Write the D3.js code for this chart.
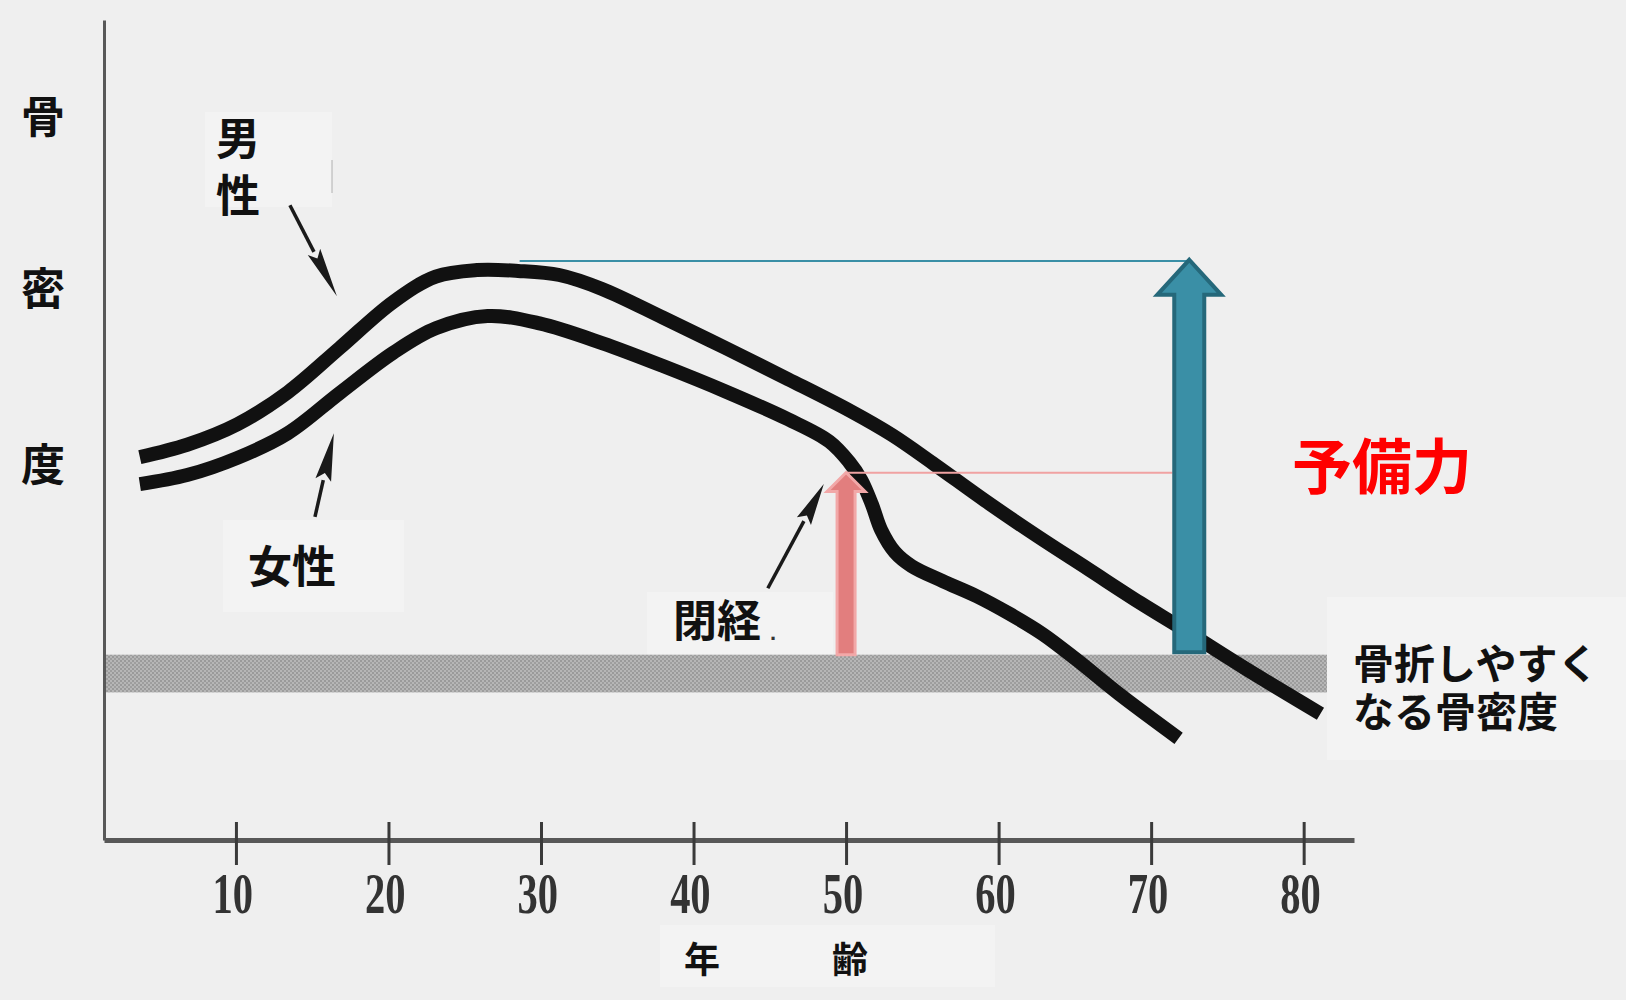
<!DOCTYPE html>
<html><head><meta charset="utf-8">
<script src="https://cdn.jsdelivr.net/npm/d3@7"></script>
<style>
html,body{margin:0;padding:0;background:#efefef;}
svg{display:block;}
</style>
</head><body>
<svg id="chart" width="1626" height="1000"></svg>
<script>
// ---------- data ----------
const maleAges   = [3.7, 6.8, 10.1, 13.4, 16.8, 20.3, 23.1, 25.8, 28.5, 31.2, 34.0, 38.0, 42.1, 46.2, 50.3, 53.0, 55.8, 59.1, 62.5, 65.9, 69.3, 72.1, 76.1, 81.1];
const maleValues = [46.7, 48.2, 50.7, 54.6, 60.0, 65.6, 68.7, 69.5, 69.4, 68.9, 67.2, 63.7, 60.0, 56.2, 52.3, 49.4, 45.8, 41.4, 37.1, 33.0, 28.9, 25.7, 21.0, 15.4];
const femaleAges   = [3.7, 6.8, 10.1, 13.4, 16.8, 20.3, 23.1, 26.5, 29.9, 34.0, 38.0, 42.1, 46.2, 48.9, 50.2, 51.0, 51.7, 52.3, 53.2, 54.3, 56.3, 58.6, 60.7, 62.9, 65.1, 67.9, 71.8];
const femaleValues = [43.4, 44.5, 46.6, 49.6, 54.5, 59.4, 62.4, 63.9, 63.0, 60.6, 57.8, 54.7, 51.3, 48.6, 46.1, 43.9, 40.9, 37.8, 35.1, 33.4, 31.6, 29.7, 27.6, 25.1, 22.0, 17.8, 12.4];
const tickAges   = [10, 20, 30, 40, 50, 60, 70, 80];
const tickLabels = ["10", "20", "30", "40", "50", "60", "70", "80"];
const yTitleChars = ["骨", "密", "度"];
const xTitleChars = ["年", "齢"];
const fractureBand = [18.0, 22.6];           // bone density range where fractures become likely
const reserveAge = 72.5, reserveFrom = 22.9, reserveTo = 71.0, reserveLineStart = 28.6, reserveLineValue = 70.6;
const menopauseAge = 50, menopauseValue = 45.0, menopauseLineValue = 44.8, menopauseLineEnd = 71.4;
const maleArrow = [[13.54, 77.4], [16.62, 66.3]];
const femaleArrow = [[15.18, 39.4], [16.42, 49.6]];
const menoArrow = [[44.87, 30.7], [48.54, 43.4]];
const labelMale = ["男", "性"];
const labelFemale = "女性";
const labelMeno = "閉経";
const labelReserve = "予備力";
const labelFracture = ["骨折しやすく", "なる骨密度"];

// ---------- setup ----------
const W = 1626, H = 1000;
const svg = d3.select("#chart");
const x = d3.scaleLinear().domain([1.35, 83.3]).range([104, 1354]);
const y = d3.scaleLinear().domain([0, 100]).range([840, 20]);
const CJK = "'Liberation Sans','Noto Sans CJK JP','Noto Sans CJK SC',sans-serif";

svg.append("rect").attr("width", W).attr("height", H).attr("fill", "#efefef");

// lighter paste-up boxes behind labels
const boxes = [[205,112,127,95],[223,520,181,92],[647,592,186,63],[660,925,335,62],[1327,597,299,163]];
svg.selectAll("rect.box").data(boxes).join("rect").attr("class","box")
  .attr("x", d=>d[0]).attr("y", d=>d[1]).attr("width", d=>d[2]).attr("height", d=>d[3])
  .attr("fill", "#f3f3f3");
svg.append("line").attr("x1",332).attr("x2",332).attr("y1",160).attr("y2",193).attr("stroke","#b0b0b0").attr("stroke-width",1);

// checker pattern for the fracture band
const defs = svg.append("defs");
const pat = defs.append("pattern").attr("id","chk").attr("width",4).attr("height",4).attr("patternUnits","userSpaceOnUse");
pat.append("rect").attr("width",4).attr("height",4).attr("fill","#b6b6b6");
pat.append("rect").attr("width",2).attr("height",2).attr("fill","#9a9a9a");
pat.append("rect").attr("x",2).attr("y",2).attr("width",2).attr("height",2).attr("fill","#9e9e9e");

svg.append("rect")
  .attr("x", x.range()[0]).attr("width", 1327 - x.range()[0])
  .attr("y", y(fractureBand[1])).attr("height", y(fractureBand[0]) - y(fractureBand[1]))
  .attr("fill", "url(#chk)");

// ---------- axes ----------
const xAxis = d3.axisBottom(x).tickValues(tickAges).tickFormat((d,i)=>tickLabels[i]).tickSizeOuter(0);
const gx = svg.append("g").attr("transform", `translate(0,${y(0)})`).call(xAxis);
gx.select(".domain").attr("stroke", "#585858").attr("stroke-width", 5);
gx.selectAll(".tick line").attr("y1", -18).attr("y2", 25).attr("stroke", "#3a3a3a").attr("stroke-width", 3);
gx.selectAll(".tick text")
  .attr("y", 0).attr("dy", null).attr("x", -4)
  .attr("transform", "translate(0,54) scale(0.92,1.3)")
  .attr("dominant-baseline", "central")
  .attr("font-family", "'Liberation Serif','DejaVu Serif',serif")
  .attr("font-weight", "bold").attr("font-size", 44).attr("fill", "#333");

const yAxis = d3.axisLeft(y).tickValues([]).tickSizeOuter(0);
const gy = svg.append("g").attr("transform", `translate(${x.range()[0]},0)`).call(yAxis);
gy.select(".domain").attr("stroke", "#585858").attr("stroke-width", 3);

// ---------- curves ----------
const line = d3.line().x(d=>x(d[0])).y(d=>y(d[1])).curve(d3.curveCatmullRom.alpha(0.5));
const maleData = maleAges.map((a,i)=>[a, maleValues[i]]);
const femaleData = femaleAges.map((a,i)=>[a, femaleValues[i]]);
svg.selectAll("path.curve").data([maleData, femaleData]).join("path").attr("class","curve")
  .attr("d", line).attr("fill","none").attr("stroke","#111").attr("stroke-width",14)
  .attr("stroke-linecap","butt").attr("stroke-linejoin","round");

// ---------- guide lines ----------
svg.append("line")
  .attr("x1", x(reserveLineStart)).attr("x2", x(reserveAge))
  .attr("y1", y(reserveLineValue)).attr("y2", y(reserveLineValue))
  .attr("stroke", "#3a8fa6").attr("stroke-width", 2);
svg.append("line")
  .attr("x1", x(menopauseAge)).attr("x2", x(menopauseLineEnd))
  .attr("y1", y(menopauseLineValue)).attr("y2", y(menopauseLineValue))
  .attr("stroke", "#f0a2a2").attr("stroke-width", 2);

// ---------- block arrows ----------
function blockArrow(cx, tip, bottom, sh, hh, hl, fill, stroke, sw){
  const pts = [[cx,tip],[cx+hh,tip+hl],[cx+sh,tip+hl],[cx+sh,bottom],[cx-sh,bottom],[cx-sh,tip+hl],[cx-hh,tip+hl]];
  svg.append("path").attr("d", d3.line()(pts)+"Z")
    .attr("fill", fill).attr("stroke", stroke).attr("stroke-width", sw).attr("stroke-linejoin","miter");
}
blockArrow(x(reserveAge), y(reserveTo)+2, y(reserveFrom), 15, 32, 35, "#3a8fa6", "#25687a", 4);
blockArrow(x(menopauseAge), y(menopauseValue)+1.5, y(fractureBand[1]), 9, 19, 19, "#e27e7e", "#f2a8a8", 3);

// ---------- annotation arrows ----------
function pointer(seg, hl, hw){
  const [s, t] = seg.map(p=>[x(p[0]), y(p[1])]);
  const dx = t[0]-s[0], dy = t[1]-s[1], L = Math.hypot(dx,dy), ux = dx/L, uy = dy/L;
  const bx = t[0]-ux*hl, by = t[1]-uy*hl;
  svg.append("line").attr("x1", s[0]).attr("y1", s[1]).attr("x2", bx).attr("y2", by)
    .attr("stroke", "#1a1a1a").attr("stroke-width", 3.5);
  const nx = -uy, ny = ux;
  const pts = [[t[0],t[1]],[bx+nx*hw,by+ny*hw],[t[0]-ux*hl*0.85,t[1]-uy*hl*0.85],[bx-nx*hw,by-ny*hw]];
  svg.append("path").attr("d", d3.line()(pts)+"Z").attr("fill","#1a1a1a");
}
pointer(maleArrow, 50, 7);
pointer(femaleArrow, 48, 8);
pointer(menoArrow, 42, 8);

// ---------- text ----------
function txt(t, px, py, size, color, anchor){
  return svg.append("text").attr("x", px).attr("y", py).text(t)
    .attr("font-family", CJK).attr("font-size", size).attr("font-weight", 700)
    .attr("fill", color||"#111").attr("text-anchor", anchor||"middle").attr("dominant-baseline","central");
}
const yTitleY = [117, 289, 465];
yTitleChars.forEach((c,i)=>txt(c, 43, yTitleY[i], 44));
labelMale.forEach((c,i)=>txt(c, 238, [139, 196][i], 44));
txt(labelFemale, 292, 567, 44);
txt(labelMeno, 717, 621, 44);
svg.append("text").attr("x", 773).attr("y", 640).text(".").attr("font-family", CJK)
  .attr("font-size", 22).attr("font-weight", 700).attr("fill","#333").attr("text-anchor","middle");
txt(labelReserve, 1382, 468, 60, "#ff0000");
labelFracture.forEach((t,i)=>txt(t, 1353, [665, 713][i], 41, "#111", "start"));
const xTitleX = [702, 850];
xTitleChars.forEach((c,i)=>txt(c, xTitleX[i], 960, 36));
</script>
</body></html>
